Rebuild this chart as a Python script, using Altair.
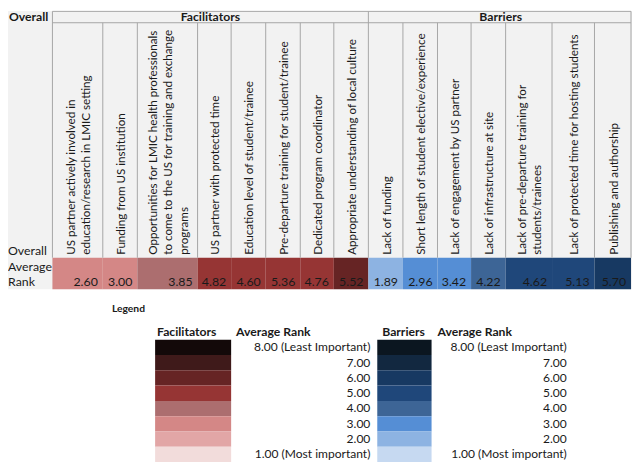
import altair as alt
import pandas as pd

# ---------------- data ----------------
fac_labels = [
    "US partner actively involved in\neducation/research in LMIC setting",
    "Funding from US institution",
    "Opportunities for LMIC health professionals\nto come to the US for training and exchange\nprograms",
    "US partner with protected time",
    "Education level of student/trainee",
    "Pre-departure training for student/trainee",
    "Dedicated program coordinator",
    "Appropriate understanding of local culture",
]
fac_values = [2.60, 3.00, 3.85, 4.82, 4.60, 5.36, 4.76, 5.52]

bar_labels = [
    "Lack of funding",
    "Short length of student elective/experience",
    "Lack of engagement by US partner",
    "Lack of infrastructure at site",
    "Lack of pre-departure training for\nstudents/trainees",
    "Lack of protected time for hosting students",
    "Publishing and authorship",
]
bar_values = [1.89, 2.96, 3.42, 4.22, 4.62, 5.13, 5.70]

legend_ranks = [8, 7, 6, 5, 4, 3, 2, 1]
legend_texts = ["8.00 (Least Important)", "7.00", "6.00", "5.00", "4.00",
                "3.00", "2.00", "1.00 (Most important)"]

# colours for rank 1..8
fac_colors = ["#f2dcdb", "#e2a6a6", "#d48786", "#ac6e6f", "#963534",
              "#662424", "#3f1a1a", "#130909"]
bar_colors = ["#c6d9f1", "#8db3e2", "#558ed5", "#3d6596", "#1f477a",
              "#173962", "#122840", "#0b1620"]
breaks = [1.5, 2.5, 3.5, 4.5, 5.5, 6.5, 7.5]

# ---------------- layout (page pixel coordinates) ----------------
FAC_EDGES = [53, 104, 139, 200, 234, 269, 304, 338, 373]
BAR_EDGES = [373, 408, 443, 477, 512, 559, 602, 639]
TOP, HEAD_B, LAB_B, ROW_B = 8.5, 20, 258, 290
HEAD_Y = 14
LEG_TOP, LEG_H = 341, 15.5
LH = 15.5
FONT = "Lato"
GRID = "#a6a6a6"
TXT = "#1a1a1a"

X = alt.Scale(domain=[8, 640], nice=False, zero=False)
Y = alt.Scale(domain=[8, 465], nice=False, zero=False, reverse=True)


def cells(labels, values, edges):
    d = pd.DataFrame({
        "label": labels,
        "value": values,
        "x0": edges[:-1],
        "x1": edges[1:],
    })
    nlines = d["label"].str.count("\n")
    d["xc"] = (d.x0 + d.x1) / 2 + 1 - nlines * LH / 2
    d["xr"] = d.x1 - 5
    d["y0"], d["y1"], d["ylab"], d["yval"] = LAB_B, ROW_B, 255, 283
    return d


fac_df = cells(fac_labels, fac_values, FAC_EDGES)
bar_df = cells(bar_labels, bar_values, BAR_EDGES)


def legend_df(x0, x1, xt):
    d = pd.DataFrame({"rank": legend_ranks, "text": legend_texts})
    d["y0"] = [LEG_TOP + i * LEG_H for i in range(len(d))]
    d["y1"] = d["y0"] + LEG_H
    d["yc"] = d["y0"] + LEG_H / 2
    d["x0"], d["x1"], d["xt"] = x0, x1, xt
    return d


fac_leg = legend_df(157, 234, 375)
bar_leg = legend_df(382, 437, 574)


def xy(x, y, **kw):
    enc = dict(x=alt.X(x, type="quantitative", scale=X, axis=None),
               y=alt.Y(y, type="quantitative", scale=Y, axis=None))
    enc.update(kw)
    return enc


# background
bg = alt.Chart(pd.DataFrame({"x0": [8], "x1": [640], "y0": [8], "y1": [ROW_B]})).mark_rect(
    color="#f2f2f2").encode(**xy("x0", "y0", x2="x1", y2="y1"))


def cell_layer(df, colors):
    return alt.Chart(df).mark_rect().encode(
        **xy("x0", "y0", x2="x1", y2="y1"),
        color=alt.Color("value:Q", scale=alt.Scale(type="threshold", domain=breaks, range=colors),
                        legend=None))


def leg_layer(df, colors):
    return alt.Chart(df).mark_rect().encode(
        **xy("x0", "y0", x2="x1", y2="y1"),
        color=alt.Color("rank:Q", scale=alt.Scale(type="threshold", domain=breaks, range=colors),
                        legend=None))


def val_text(df):
    return alt.Chart(df).mark_text(align="right", baseline="middle", font=FONT,
                                   fontSize=12.5, color=TXT).encode(
        **xy("xr", "yval", text=alt.Text("value:Q", format=".2f")))


def lab_text(df):
    return alt.Chart(df).mark_text(angle=270, align="left", baseline="middle", font=FONT,
                                   fontSize=11.8, lineBreak="\n", lineHeight=LH,
                                   color=TXT).encode(**xy("xc", "ylab", text="label:N"))


# grid lines
lines = []
for e in FAC_EDGES[1:-1] + BAR_EDGES[1:-1]:
    lines.append((e, HEAD_B, e, LAB_B))
for e in [53, 373, 639]:
    lines.append((e, TOP, e, LAB_B))
lines.append((53, HEAD_B, 639, HEAD_B))
lines.append((53, TOP, 639, TOP))
lines_df = pd.DataFrame(lines, columns=["x0", "y0", "x1", "y1"])
grid = alt.Chart(lines_df).mark_rule(color=GRID, strokeWidth=1).encode(
    **xy("x0", "y0", x2="x1", y2="y1"))

# static texts
titles_df = pd.DataFrame([
    ("Overall", 9, HEAD_Y, "left", 13),
    ("Facilitators", 213, HEAD_Y, "center", 13),
    ("Barriers", 507, HEAD_Y, "center", 13),
    ("Legend", 130, 310, "center", 11),
    ("Facilitators", 159, 333, "left", 13),
    ("Average Rank", 239, 333, "left", 13),
    ("Barriers", 387, 333, "left", 13),
    ("Average Rank", 443, 333, "left", 13),
], columns=["t", "x", "y", "anchor", "fsize"])


def title_layer(anchor, size):
    d = titles_df[(titles_df["anchor"] == anchor) & (titles_df["fsize"] == size)]
    return alt.Chart(d).mark_text(align=anchor, baseline="middle", font=FONT, fontSize=size * 0.95,
                                  fontWeight="bold", color=TXT).encode(**xy("x", "y", text="t:N"))


overall_row = alt.Chart(pd.DataFrame({"t": ["Overall\nAverage\nRank"], "x": [8], "y": [267 - LH]})).mark_text(
    align="left", baseline="middle", font=FONT, fontSize=12.5, lineBreak="\n", lineHeight=LH,
    color=TXT).encode(**xy("x", "y", text="t:N"))


def leg_text(df):
    return alt.Chart(df).mark_text(align="right", baseline="middle", font=FONT, fontSize=12.2,
                                   color=TXT).encode(**xy("xt", "yc", text="text:N"))


chart = alt.layer(
    bg,
    cell_layer(fac_df, fac_colors),
    cell_layer(bar_df, bar_colors),
    grid,
    val_text(fac_df), val_text(bar_df),
    lab_text(fac_df), lab_text(bar_df),
    title_layer("left", 13), title_layer("center", 13), title_layer("center", 11),
    overall_row,
    leg_layer(fac_leg, fac_colors), leg_layer(bar_leg, bar_colors),
    leg_text(fac_leg), leg_text(bar_leg),
).resolve_scale(color="independent").properties(
    width=632, height=457, padding=0, autosize=alt.AutoSizeParams(type="none"),
    background="white",
).configure_view(stroke=None)

chart.save("out.html", embed_options={"renderer": "svg", "actions": False})
